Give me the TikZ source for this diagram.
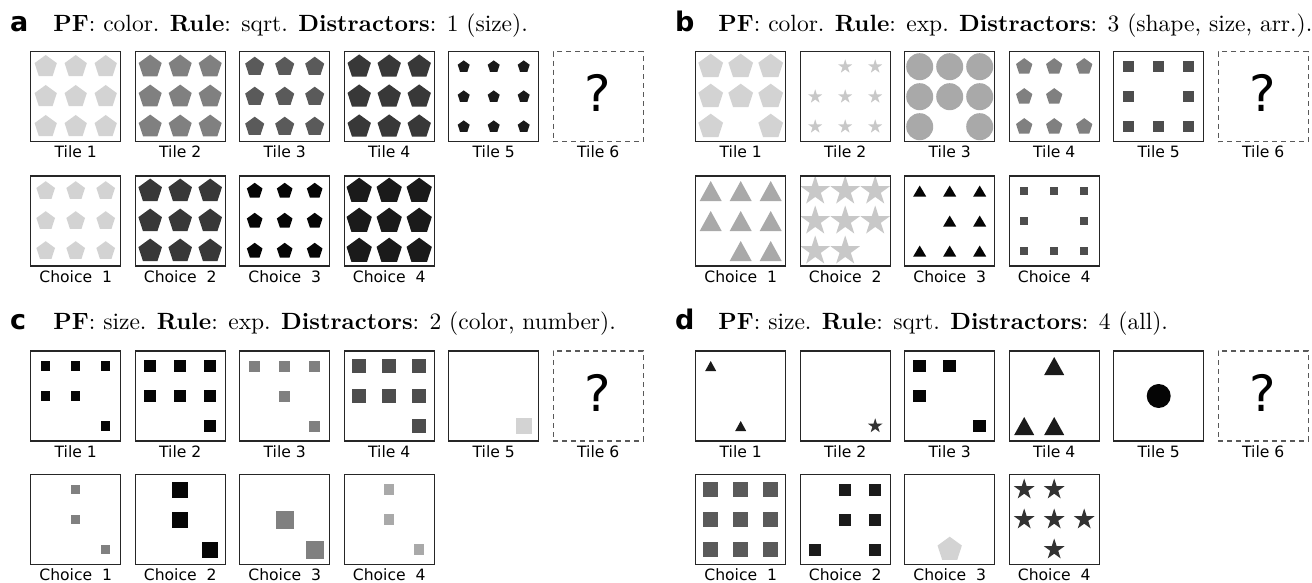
\documentclass[tikz,border=0pt]{standalone}
\usepackage{fontspec}
\newfontfamily\dvs{DejaVu Sans}
\usetikzlibrary{calc}
\definecolor{cLG}{HTML}{D3D3D3}
\definecolor{cSV}{HTML}{C8C8C8}
\definecolor{cDG}{HTML}{A9A9A9}
\definecolor{cGR}{HTML}{808080}
\definecolor{cDM}{HTML}{5A5A5A}
\definecolor{cG4}{HTML}{4D4D4D}
\definecolor{cG3}{HTML}{383838}
\definecolor{cG2}{HTML}{333333}
\definecolor{cG1}{HTML}{1A1A1A}
\definecolor{cBK}{HTML}{050505}
\def\allnine{1/1,2/1,3/1,1/2,2/2,3/2,1/3,2/3,3/3}
\newcommand\shPent[4]{\fill[#4] ({30*#1-15},{30*#2-15}) +(90:#3pt) -- +(162:#3pt) -- +(234:#3pt) -- +(306:#3pt) -- +(18:#3pt) -- cycle;}
\newcommand\shStar[4]{\pgfmathsetmacro\shri{0.382*#3}%
 \fill[#4] ({30*#1-15},{30*#2-15}) +(90:#3pt) -- +(126:\shri pt) -- +(162:#3pt) -- +(198:\shri pt) -- +(234:#3pt) -- +(270:\shri pt) -- +(306:#3pt) -- +(342:\shri pt) -- +(18:#3pt) -- +(54:\shri pt) -- cycle;}
\newcommand\shSq[4]{\pgfmathsetmacro\shh{#3/2}%
 \fill[#4] ({30*#1-15},{30*#2-15}) +(-\shh pt,-\shh pt) rectangle +(\shh pt,\shh pt);}
\newcommand\shTri[5]{\pgfmathsetmacro\shw{#3/2}\pgfmathsetmacro\shhh{#4/2}%
 \fill[#5] ({30*#1-15},{30*#2-15}) +(0pt,\shhh pt) -- +(-\shw pt,-\shhh pt) -- +(\shw pt,-\shhh pt) -- cycle;}
\newcommand\shCirc[4]{\pgfmathsetmacro\shh{#3/2}%
 \fill[#4] ({30*#1-15},{30*#2-15}) circle[radius=\shh pt];}
\newcommand\Tile[5]{\begin{scope}[shift={(#2,#3)}]#5\end{scope}
 \node[tbox] (#1) at ({#2+45},{#3+45}) {};
 \node[lbl] (#1-l) at ($(#1.south)+(0,16)$) {#4};}
\newcommand\QTile[4]{\node[qbox] (#1) at ({#2+45},{#3+45}) {};
 \node[qmark] (#1-q) at ($(#1.center)+(0,-3.4)$) {?};
 \node[lbl] (#1-l) at ($(#1.south)+(0,16)$) {Tile 6};}
\tikzset{
 tbox/.style={draw=black!85, line width=1.2pt, minimum size=90pt, inner sep=0pt, outer sep=0pt},
 qbox/.style={draw=black!65, line width=1.2pt, dash pattern=on 5pt off 4pt, minimum size=90pt, inner sep=0pt, outer sep=0pt},
 qmark/.style={font=\dvs\fontsize{50}{55}\selectfont, inner sep=0pt},
 lbl/.style={anchor=base, inner sep=0pt, font=\dvs\fontsize{15.6}{18}\selectfont},
 plet/.style={anchor=base west, inner sep=0pt, font=\dvs\bfseries\fontsize{27}{30}\selectfont},
 ptitle/.style={anchor=base west, inner sep=0pt, font=\fontsize{10}{12}\selectfont, scale=2.35, transform shape},
}
\begin{document}
\begin{tikzpicture}[x=1pt,y=-1pt]
\useasboundingbox (0,0) rectangle (1312,583);
% ---------- panel a ----------
\node[plet] (a-let) at (10,31.7) {a};
\node[ptitle] (a-title) at (53,31.7) {\textbf{PF}: color. \textbf{Rule}: sqrt. \textbf{Distractors}: 1 (size).};
\Tile{a-t1}{30.7}{51.7}{Tile 1}{\foreach \cx/\ry in \allnine {\shPent{\cx}{\ry}{11.7}{cLG}}}
\Tile{a-t2}{135.2}{51.7}{Tile 2}{\foreach \cx/\ry in \allnine {\shPent{\cx}{\ry}{12.1}{cGR}}}
\Tile{a-t3}{239.7}{51.7}{Tile 3}{\foreach \cx/\ry in \allnine {\shPent{\cx}{\ry}{10}{cDM}}}
\Tile{a-t4}{344.2}{51.7}{Tile 4}{\foreach \cx/\ry in \allnine {\shPent{\cx}{\ry}{12.3}{cG3}}}
\Tile{a-t5}{448.7}{51.7}{Tile 5}{\foreach \cx/\ry in \allnine {\shPent{\cx}{\ry}{6.3}{cG1}}}
\QTile{a-t6}{553.2}{51.7}{}
\Tile{a-c1}{30.7}{176}{Choice~~1}{\foreach \cx/\ry in \allnine {\shPent{\cx}{\ry}{9.8}{cLG}}}
\Tile{a-c2}{135.2}{176}{Choice~~2}{\foreach \cx/\ry in \allnine {\shPent{\cx}{\ry}{12.4}{cG3}}}
\Tile{a-c3}{239.7}{176}{Choice~~3}{\foreach \cx/\ry in \allnine {\shPent{\cx}{\ry}{8.2}{cBK}}}
\Tile{a-c4}{344.2}{176}{Choice~~4}{\foreach \cx/\ry in \allnine {\shPent{\cx}{\ry}{13.3}{cG1}}}
% ---------- panel b ----------
\node[plet] (b-let) at (675,31.7) {b};
\node[ptitle] (b-title) at (718,31.7) {\textbf{PF}: color. \textbf{Rule}: exp. \textbf{Distractors}: 3 (shape, size, arr.).};
\Tile{b-t1}{695.7}{51.7}{Tile 1}{\foreach \cx/\ry in {1/1,2/1,3/1,1/2,2/2,3/2,1/3,3/3} {\shPent{\cx}{\ry}{13}{cLG}}}
\Tile{b-t2}{800.2}{51.7}{Tile 2}{\foreach \cx/\ry in {2/1,3/1,1/2,2/2,3/2,1/3,2/3,3/3} {\shStar{\cx}{\ry}{7.4}{cSV}}}
\Tile{b-t3}{904.7}{51.7}{Tile 3}{\foreach \cx/\ry in {1/1,2/1,3/1,1/2,2/2,3/2,1/3,3/3} {\shCirc{\cx}{\ry}{27}{cDG}}}
\Tile{b-t4}{1009.2}{51.7}{Tile 4}{\foreach \cx/\ry in {1/1,2/1,3/1,1/2,2/2,1/3,2/3,3/3} {\shPent{\cx}{\ry}{8.6}{cGR}}}
\Tile{b-t5}{1113.7}{51.7}{Tile 5}{\foreach \cx/\ry in {1/1,2/1,3/1,1/2,3/2,1/3,2/3,3/3} {\shSq{\cx}{\ry}{11}{cG4}}}
\QTile{b-t6}{1218.2}{51.7}{}
\Tile{b-c1}{695.7}{176}{Choice~~1}{\foreach \cx/\ry in {1/1,2/1,3/1,1/2,2/2,3/2,2/3,3/3} {\shTri{\cx}{\ry}{22}{20}{cDG}}}
\Tile{b-c2}{800.2}{176}{Choice~~2}{\foreach \cx/\ry in {1/1,2/1,3/1,1/2,2/2,3/2,1/3,2/3} {\shStar{\cx}{\ry}{15.5}{cSV}}}
\Tile{b-c3}{904.7}{176}{Choice~~3}{\foreach \cx/\ry in {1/1,2/1,3/1,2/2,3/2,1/3,2/3,3/3} {\shTri{\cx}{\ry}{13}{11}{cBK}}}
\Tile{b-c4}{1009.2}{176}{Choice~~4}{\foreach \cx/\ry in {1/1,2/1,3/1,1/2,3/2,1/3,2/3,3/3} {\shSq{\cx}{\ry}{8}{cG4}}}
% ---------- panel c ----------
\node[plet] (c-let) at (10,329) {c};
\node[ptitle] (c-title) at (53,329) {\textbf{PF}: size. \textbf{Rule}: exp. \textbf{Distractors}: 2 (color, number).};
\Tile{c-t1}{30.7}{351}{Tile 1}{\foreach \cx/\ry in {1/1,2/1,3/1,1/2,2/2,3/3} {\shSq{\cx}{\ry}{9.5}{cBK}}}
\Tile{c-t2}{135.2}{351}{Tile 2}{\foreach \cx/\ry in {1/1,2/1,3/1,1/2,2/2,3/2,3/3} {\shSq{\cx}{\ry}{11.5}{cBK}}}
\Tile{c-t3}{239.7}{351}{Tile 3}{\foreach \cx/\ry in {1/1,2/1,3/1,2/2,3/3} {\shSq{\cx}{\ry}{11}{cGR}}}
\Tile{c-t4}{344.2}{351}{Tile 4}{\foreach \cx/\ry in {1/1,2/1,3/1,1/2,2/2,3/2,3/3} {\shSq{\cx}{\ry}{13.5}{cG4}}}
\Tile{c-t5}{448.7}{351}{Tile 5}{\shSq{3}{3}{16}{cLG}}
\QTile{c-t6}{553.2}{351}{}
\Tile{c-c1}{30.7}{474.5}{Choice~~1}{\foreach \cx/\ry in {2/1,2/2,3/3} {\shSq{\cx}{\ry}{9.3}{cGR}}}
\Tile{c-c2}{135.2}{474.5}{Choice~~2}{\foreach \cx/\ry in {2/1,2/2,3/3} {\shSq{\cx}{\ry}{16}{cBK}}}
\Tile{c-c3}{239.7}{474.5}{Choice~~3}{\foreach \cx/\ry in {2/2,3/3} {\shSq{\cx}{\ry}{18}{cGR}}}
\Tile{c-c4}{344.2}{474.5}{Choice~~4}{\foreach \cx/\ry in {2/1,2/2,3/3} {\shSq{\cx}{\ry}{10.5}{cDG}}}
% ---------- panel d ----------
\node[plet] (d-let) at (675,329) {d};
\node[ptitle] (d-title) at (718,329) {\textbf{PF}: size. \textbf{Rule}: sqrt. \textbf{Distractors}: 4 (all).};
\Tile{d-t1}{695.7}{351}{Tile 1}{\foreach \cx/\ry in {1/1,2/3} {\shTri{\cx}{\ry}{11}{10}{cG1}}}
\Tile{d-t2}{800.2}{351}{Tile 2}{\shStar{3}{3}{7.7}{cG2}}
\Tile{d-t3}{904.7}{351}{Tile 3}{\foreach \cx/\ry in {1/1,2/1,1/2,3/3} {\shSq{\cx}{\ry}{12.5}{cBK}}}
\Tile{d-t4}{1009.2}{351}{Tile 4}{\foreach \cx/\ry in {2/1,1/3,2/3} {\shTri{\cx}{\ry}{20}{18}{cG1}}}
\Tile{d-t5}{1113.7}{351}{Tile 5}{\shCirc{2}{2}{24}{cBK}}
\QTile{d-t6}{1218.2}{351}{}
\Tile{d-c1}{695.7}{474.5}{Choice~~1}{\foreach \cx/\ry in \allnine {\shSq{\cx}{\ry}{15}{cDM}}}
\Tile{d-c2}{800.2}{474.5}{Choice~~2}{\foreach \cx/\ry in {2/1,3/1,2/2,3/2,1/3,3/3} {\shSq{\cx}{\ry}{12}{cG1}}}
\Tile{d-c3}{904.7}{474.5}{Choice~~3}{\shPent{2}{3}{12.8}{cLG}}
\Tile{d-c4}{1009.2}{474.5}{Choice~~4}{\foreach \cx/\ry in {1/1,2/1,1/2,2/2,3/2,2/3} {\shStar{\cx}{\ry}{11}{cG2}}}
\end{tikzpicture}
\end{document}
